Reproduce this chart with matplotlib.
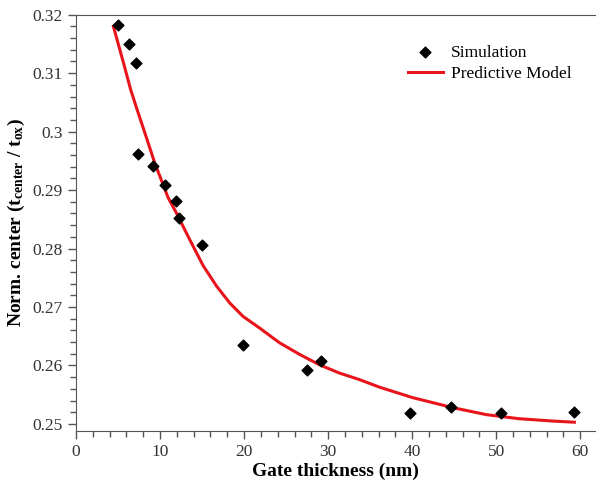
import matplotlib
matplotlib.use("Agg")
import matplotlib.pyplot as plt
from matplotlib.ticker import MultipleLocator

# simulation points (gate thickness nm, normalised center)
sim_x = [5.0, 6.25, 7.17, 7.32, 9.22, 10.6, 11.88, 12.2, 15.04, 19.87,
         27.5, 29.1, 39.75, 44.6, 50.6, 59.2]
sim_y = [0.3182, 0.3149, 0.3118, 0.2961, 0.2942, 0.2909, 0.2882, 0.2852,
         0.2806, 0.2635, 0.2593, 0.2607, 0.2518, 0.2529, 0.2518, 0.2521]

# predictive model curve
mod_x = [4.45, 5.7, 6.5, 7.4, 8.19, 9.38, 10.96, 11.9, 13.54, 15.12,
         16.71, 18.29, 19.87, 21.85, 24.2, 26.6, 29.0, 31.35, 33.7, 36.1,
         40.06, 44.8, 48.8, 52.7, 56.7, 59.3]
mod_y = [0.3180, 0.3115, 0.3072, 0.3032, 0.2998, 0.2946, 0.2887, 0.2862,
         0.2815, 0.2771, 0.2736, 0.2707, 0.2684, 0.2664, 0.2639, 0.2619,
         0.2601, 0.2587, 0.2576, 0.2563, 0.2545, 0.2528, 0.2516, 0.2509,
         0.2505, 0.2503]

plt.rcParams["font.family"] = "Liberation Serif"
plt.rcParams["mathtext.fontset"] = "custom"
plt.rcParams["mathtext.rm"] = "Liberation Serif"
plt.rcParams["mathtext.bf"] = "Liberation Serif:bold"

fig = plt.figure(figsize=(5.96, 4.83), dpi=100)
ax = fig.add_axes([0.1275, 0.1077, 0.8715, 0.862])

ax.plot(mod_x, mod_y, color="#e8141c", lw=2.2, label="Predictive Model",
        zorder=2, solid_joinstyle="round")
ax.scatter(sim_x, sim_y, marker="D", s=30, color="black", label="Simulation", zorder=3)

ax.set_xlim(0, 61.8)
ax.set_ylim(0.2488, 0.32)
ax.xaxis.set_major_locator(MultipleLocator(10))
ax.xaxis.set_minor_locator(MultipleLocator(2))
ax.yaxis.set_minor_locator(MultipleLocator(0.002))
ax.set_yticks([0.25, 0.26, 0.27, 0.28, 0.29, 0.3, 0.31, 0.32])
ax.set_yticklabels(["0.25", "0.26", "0.27", "0.28", "0.29", "0.3", "0.31", "0.32"])

for s in ax.spines.values():
    s.set_color("#555555")
ax.spines["right"].set_visible(False)
ax.tick_params(which="major", length=6, width=1, color="#555555", labelsize=12.5,
               labelcolor="#333333")
ax.tick_params(which="minor", length=4, width=1, color="#555555")

ax.set_xlabel("Gate thickness (nm)", fontsize=14, fontweight="bold", labelpad=2)
ax.set_ylabel(r"Norm. center ($\mathbf{t_{center}}$ / $\mathbf{t_{ox}}$)",
              fontsize=14, fontweight="bold", labelpad=4)

h, l = ax.get_legend_handles_labels()
ax.legend(h[::-1], l[::-1], loc="upper right", bbox_to_anchor=(0.985, 0.965),
          frameon=False, fontsize=12.5, handlelength=2.0, labelspacing=0.3,
          handletextpad=0.5)

fig.savefig("out.png", dpi=100)
